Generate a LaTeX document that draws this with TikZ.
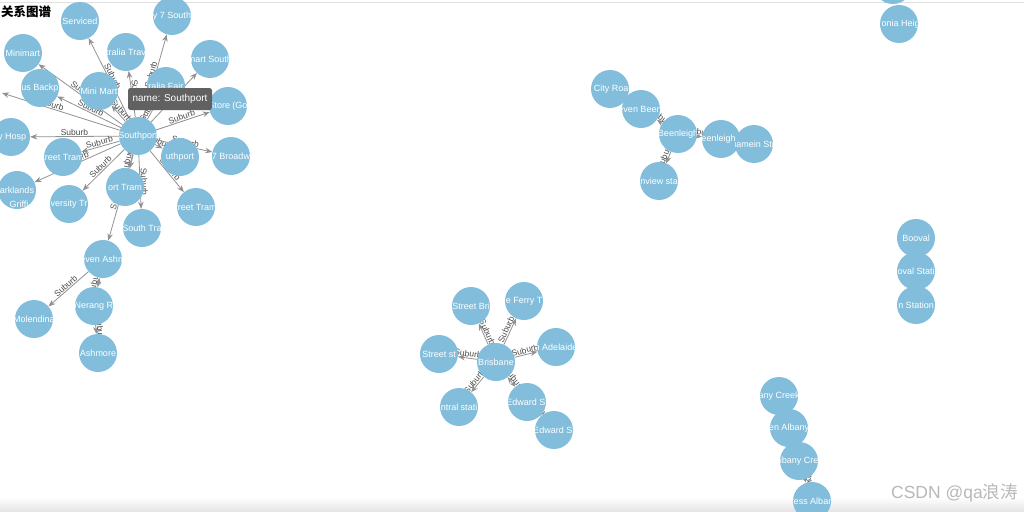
\documentclass[tikz,border=0pt]{standalone}
\usepackage{fontspec}
\setmainfont{Liberation Sans}
\newfontfamily\cjk{Noto Sans CJK SC}
\usetikzlibrary{arrows.meta}
\pgfdeclarelayer{back}
\pgfdeclarelayer{bg}
\pgfsetlayers{back,bg,main}
\definecolor{nodeblue}{RGB}{130,190,220}
\definecolor{edgegray}{RGB}{145,145,145}
\definecolor{labelgray}{RGB}{75,75,75}
\tikzset{
  gnode/.style={circle, fill=nodeblue, minimum size=38pt, inner sep=0pt},
  gtext/.style={text=white, font=\fontsize{9}{10}\selectfont, inner sep=0pt},
  edge/.style={draw=edgegray, line width=0.8pt, -{Stealth[length=7pt,width=5.5pt]}},
  dedge/.style={draw=edgegray, line width=0.8pt, {Stealth[length=6pt,width=5pt]}-{Stealth[length=6pt,width=5pt]}},
  elab/.style={sloped, above, inner sep=0.8pt, text=labelgray, font=\fontsize{8.5}{9}\selectfont},
}
\newcommand\gn[3]{\node[gnode, path picture={\node[gtext] at (path picture bounding box.center) {#3};}] (#1) at (#2) {};}
\newcommand\edgeS[3][0.5]{\begin{pgfonlayer}{bg}\draw[edge] (#2) -- node[elab,pos=#1]{Suburb} (#3);\end{pgfonlayer}}
\newcommand\edgeD[2]{\begin{pgfonlayer}{bg}\draw[dedge] (#1) -- node[elab]{Suburb} (#2);\end{pgfonlayer}}
\begin{document}
\begin{tikzpicture}[x=1pt,y=-1pt]
\clip (0,0) rectangle (1024,511);
\begin{pgfonlayer}{back}
\fill[white] (0,0) rectangle (1024,511);
\draw[black!12, line width=0.8pt] (0,2.5) -- (1024,2.5);
\fill[top color=white, bottom color=black!10] (0,497) rectangle (1024,511);
\end{pgfonlayer}

% Southport cluster
\gn{serv}{80,21}{Serviced}
\gn{hw7}{172,16}{y 7 South}
\gn{minim}{23,53}{Minimart}
\gn{trav}{126,52}{tralia Trav}
\gn{smart}{210,59}{mart South}
\gn{backp}{40,88}{us Backp}
\gn{minimart}{99,91}{Mini Mart}
\gn{fair}{166,86}{ralia Fair}
\gn{store}{228,106}{Store (Go}
\gn{hosp}{11,137}{ty Hosp}
\gn{tramL}{63,157}{treet Tram}
\gn{sthR}{180,157}{uthport}
\gn{broad}{231,156}{7 Broadw}
\gn{park}{17,190}{arklands}
\node[text=white, font=\fontsize{9}{10}\selectfont, inner sep=0pt] (griff) at (19,204) {Griffi};
\gn{univ}{69,204}{versity Tr}
\gn{ptram}{125,187}{ort Tram}
\gn{stra}{142,228}{South Tra}
\gn{tramR}{196,207}{treet Tram}
\gn{S}{138,136}{Southport}
\gn{ashm7}{103,259}{even Ashm}
\gn{nerang}{94,306}{Nerang R}
\gn{molen}{34,319}{Molendina}
\gn{ashmore}{98,353}{Ashmore}
\coordinate (offL) at (2,93);

% Beenleigh cluster
\gn{city6}{610,89}{6 City Road}
\gn{beenl7}{641,109}{even Beenl}
\gn{beenlst}{721,139}{Beenleigh St}
\gn{alamein}{754,144}{Alamein Stre}
\gn{nview}{659,181}{nview sta}
\gn{beenl}{678,134}{Beenleigh}

% Brisbane cluster
\gn{stbri}{471,306}{Street Bri}
\gn{ferry}{524,301}{e Ferry T}
\gn{adel}{556,347}{n Adelaide}
\gn{stst}{439,354}{Street st}
\gn{central}{459,407}{ntral stati}
\gn{edw2}{554,430}{Edward St}
\gn{edw1}{527,402}{Edward St}
\gn{bris}{496,362}{Brisbane}

% Albany cluster
\gn{albc}{779,396}{any Creek}
\gn{albn}{789,428}{en Albany}
\gn{albcr}{799,461}{lbany Cre}
\gn{albp}{812,501}{ress Alban}

% Right side
\gn{topn}{893,-15}{}
\gn{ronia}{899,24}{ronia Heig}
\gn{booval}{916,238}{Booval}
\gn{bstat}{916,271}{oval Stati}
\gn{nstat}{916,305}{n Station}

% Southport edges
\edgeS{S}{serv}
\edgeS{S}{hw7}
\edgeS{S}{minim}
\edgeS{S}{trav}
\edgeS{S}{smart}
\edgeS{S}{backp}
\edgeS{S}{minimart}
\edgeS{S}{fair}
\edgeS{S}{store}
\edgeS{S}{hosp}
\edgeS{S}{tramL}
\edgeS{S}{sthR}
\edgeS{S}{broad}
\edgeS{S}{park}
\edgeS{S}{univ}
\edgeS{S}{ptram}
\edgeS{S}{stra}
\edgeS{S}{tramR}
\edgeS[0.6]{S}{offL}
\edgeS{S}{ashm7}
\edgeS{ashm7}{molen}
\edgeD{ashm7}{nerang}
\edgeS{nerang}{ashmore}

% Beenleigh edges
\edgeS{beenl}{beenl7}
\edgeS{beenl}{beenlst}
\edgeS{beenl}{nview}

% Brisbane edges
\edgeS{bris}{stbri}
\edgeS{bris}{ferry}
\edgeS{bris}{adel}
\edgeS{bris}{stst}
\edgeS{bris}{central}
\edgeD{bris}{edw1}
\edgeS{edw1}{edw2}

% Albany edge
\edgeS{albcr}{albp}

% tooltip
\node[fill=black!62, rounded corners=2.5pt, minimum width=84pt, minimum height=22pt, inner sep=0pt, text=white, font=\fontsize{10}{12}\selectfont] (tip) at (170,99) {name: Southport};

% title and watermark
\node[anchor=west, inner sep=0pt, font=\cjk\bfseries\fontsize{12.5}{14}\selectfont] (title) at (1,12) {关系图谱};
\node[anchor=east, inner sep=0pt, text=black!28, font=\fontsize{17.5}{20}\selectfont] (mark) at (1018,493) {CSDN @qa{\cjk 浪涛}};
\end{tikzpicture}
\end{document}
